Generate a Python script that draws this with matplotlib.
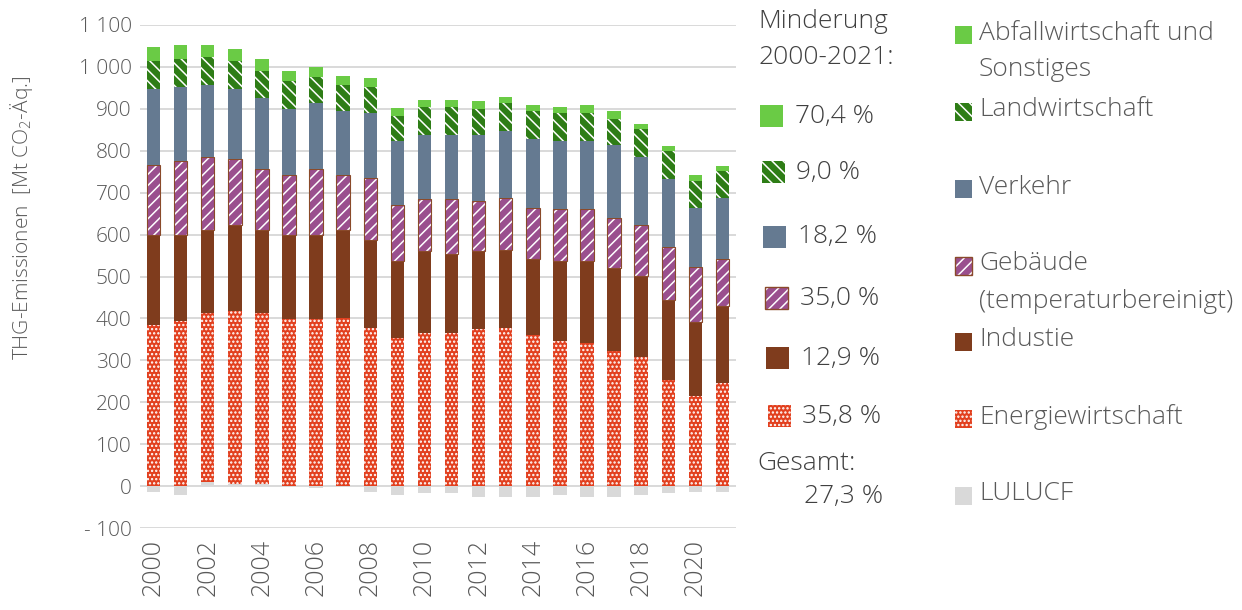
import matplotlib

matplotlib.use("Agg")
import matplotlib.pyplot as plt
from matplotlib.patches import Rectangle
import numpy as np

YEARS = list(range(2000, 2022))

# Mt CO2-Aeq. per sector
LULUCF = [-13, -21, 10, 5, 5, -2, -5, -2, -13, -21, -16, -16, -25, -25, -25, -21, -25, -25, -21, -16, -13, -13]
ENERGIE = [385, 393, 402, 412, 408, 398, 398, 402, 378, 354, 365, 365, 374, 378, 360, 346, 342, 322, 308, 254, 216, 245]
INDUSTRIE = [213, 205, 200, 205, 199, 200, 200, 210, 210, 182, 195, 189, 186, 186, 181, 190, 194, 199, 194, 191, 176, 185]
GEBAEUDE = [168, 177, 173, 158, 144, 144, 158, 130, 148, 134, 124, 130, 120, 124, 123, 124, 124, 119, 120, 125, 130, 112]
VERKEHR = [181, 176, 171, 167, 171, 158, 158, 152, 154, 153, 154, 154, 158, 158, 164, 164, 164, 174, 163, 162, 142, 146]
LANDWIRTSCHAFT = [67, 68, 68, 68, 64, 67, 62, 62, 61, 61, 66, 66, 62, 68, 66, 66, 66, 62, 66, 68, 64, 64]
ABFALL = [33, 33, 28, 27, 27, 23, 23, 23, 23, 18, 18, 18, 18, 14, 14, 14, 18, 18, 13, 12, 14, 12]

SECTOR_LABELS = [
    "Abfallwirtschaft und\nSonstiges",
    "Landwirtschaft",
    "Verkehr",
    "Gebäude\n(temperaturbereinigt)",
    "Industie",
    "Energiewirtschaft",
    "LULUCF",
]
REDUCTION_LABELS = ["70,4 %", "9,0 %", "18,2 %", "35,0 %", "12,9 %", "35,8 %"]
TOTAL_REDUCTION = "27,3 %"

Y_TICKS = list(range(-100, 1101, 100))

GREY_TEXT = "#595959"
DARK_TEXT = "#404040"
FONT = "Open Sans"
LEGEND_SIZE = 19

plt.rcParams["font.family"] = [FONT, "DejaVu Sans"]
plt.rcParams["font.weight"] = "light"
plt.rcParams["hatch.color"] = "white"
plt.rcParams["hatch.linewidth"] = 1.1
plt.rcParams["mathtext.fontset"] = "custom"
plt.rcParams["mathtext.rm"] = FONT
plt.rcParams["mathtext.it"] = FONT


def fmt_tick(v):
    if v < 0:
        return "- " + fmt_tick(-v)
    return f"{v:,}".replace(",", " ")


fig = plt.figure(figsize=(12.42, 6.10), dpi=100)
ax = fig.add_axes([140 / 1242, 82 / 610, 596 / 1242, 503 / 610])

x = np.arange(len(YEARS))
width = 0.5

# series styles, bottom to top of the stack
series = [
    (LULUCF, dict(facecolor="#d9d9d9")),
    (ENERGIE, dict(facecolor="#e2401f", hatch="....")),
    (INDUSTRIE, dict(facecolor="#7f3c1d")),
    (GEBAEUDE, dict(facecolor="#9a4f8e", hatch="///")),
    (VERKEHR, dict(facecolor="#657a91")),
    (LANDWIRTSCHAFT, dict(facecolor="#2e7d16", hatch="\\\\\\")),
    (ABFALL, dict(facecolor="#6acb45")),
]

pos_base = np.zeros(len(YEARS))
neg_base = np.zeros(len(YEARS))
for values, style in series:
    vals = np.asarray(values, dtype=float)
    base = np.where(vals >= 0, pos_base, neg_base)
    ax.bar(x, vals, width, bottom=base, linewidth=0, zorder=3, **style)
    if values is GEBAEUDE:
        ax.bar(x, vals, width, bottom=base, fill=False, edgecolor="#8a4a2a",
               linewidth=0.8, zorder=3)
    pos_base = pos_base + np.where(vals >= 0, vals, 0)
    neg_base = neg_base + np.where(vals < 0, vals, 0)

ax.set_xlim(-0.5, len(YEARS) - 0.5)
ax.set_ylim(-100, 1100)
ax.set_yticks(Y_TICKS)
ax.set_yticklabels([fmt_tick(v) for v in Y_TICKS])
ax.set_xticks(x[::2])
ax.set_xticklabels([str(y) for y in YEARS[::2]], rotation=90)
ax.tick_params(axis="both", length=0, colors=GREY_TEXT)
ax.tick_params(axis="y", pad=6, labelsize=15)
ax.tick_params(axis="x", pad=8, labelsize=18)
ax.grid(axis="y", color="#d9d9d9", linewidth=1.4, zorder=0)
ax.set_axisbelow(True)
for spine in ax.spines.values():
    spine.set_visible(False)

fig.text(22 / 1242, 1 - 218 / 610, "THG-Emissionen  [Mt CO$_2$-Äq.]",
         rotation=90, ha="center", va="center", fontsize=15, color=GREY_TEXT)

# overlay in pixel coordinates for the two legend columns
ov = fig.add_axes([0, 0, 1, 1], zorder=5)
ov.set_xlim(0, 1242)
ov.set_ylim(610, 0)
ov.axis("off")

ov.text(758, 22, "Minderung", fontsize=LEGEND_SIZE, color=DARK_TEXT, va="center")
ov.text(758, 58, "2000-2021:", fontsize=LEGEND_SIZE, color=DARK_TEXT, va="center")

mid_rows = [116, 172, 237, 298, 358, 416]
for i, (label, (values, style), yc) in enumerate(zip(REDUCTION_LABELS, series[::-1], mid_rows)):
    px = 760 + i * 1.5
    ov.add_patch(Rectangle((px, yc - 11), 23, 22, linewidth=0, **style))
    if values is GEBAEUDE:
        ov.add_patch(Rectangle((px, yc - 11), 23, 22, fill=False,
                               edgecolor="#8a4a2a", linewidth=1))
    ov.text(px + 35, yc, label, fontsize=LEGEND_SIZE, color=DARK_TEXT, va="center")

ov.text(757, 463, "Gesamt:", fontsize=LEGEND_SIZE, color=DARK_TEXT, va="center")
ov.text(883, 497, TOTAL_REDUCTION, fontsize=LEGEND_SIZE, color=DARK_TEXT, va="center", ha="right")

right_rows = [35, 112, 189, 266, 342, 419, 496]
for label, (values, style), yc in zip(SECTOR_LABELS, series[::-1], right_rows):
    ov.add_patch(Rectangle((955, yc - 9), 17, 18, linewidth=0, **style))
    if values is GEBAEUDE:
        ov.add_patch(Rectangle((955, yc - 9), 17, 18, fill=False,
                               edgecolor="#8a4a2a", linewidth=1))
    for j, line in enumerate(label.split("\n")):
        ov.text(979, yc - 2 + j * 37, line, fontsize=LEGEND_SIZE, color=GREY_TEXT, va="center")

fig.savefig("out.png", dpi=100)
